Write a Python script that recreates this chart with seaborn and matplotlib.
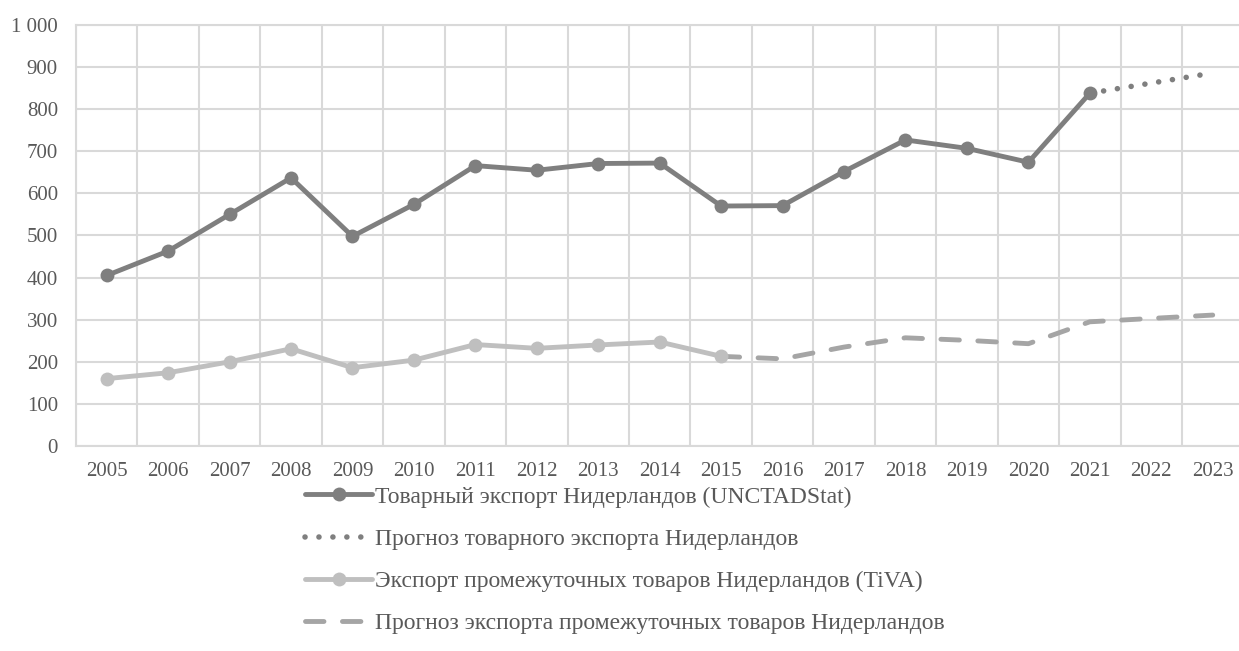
import seaborn as sns
import matplotlib.pyplot as plt
import pandas as pd
from matplotlib.ticker import FuncFormatter

years = list(range(2005, 2022))
export_unctad = [405, 463, 550, 637, 498, 574, 666, 655, 671, 672, 570, 571, 652, 727, 707, 674, 838]

forecast_years = [2021, 2022, 2023]
export_forecast = [838, 862, 886]

tiva_years = list(range(2005, 2016))
export_tiva = [160, 174, 200, 231, 186, 204, 241, 232, 240, 247, 213]

tiva_forecast_years = list(range(2015, 2024))
tiva_forecast = [213, 207, 235, 257, 251, 243, 295, 303, 311]

labels = [
    'Товарный экспорт Нидерландов (UNCTADStat)',
    'Прогноз товарного экспорта Нидерландов',
    'Экспорт промежуточных товаров Нидерландов (TiVA)',
    'Прогноз экспорта промежуточных товаров Нидерландов',
]

sns.set_style('white')
plt.rcParams['font.family'] = ['Liberation Serif', 'DejaVu Serif']

fig = plt.figure(figsize=(12.39, 6.51), dpi=100)
ax = fig.add_axes([0.0613, 0.3149, 0.9423, 0.6467])

df1 = pd.DataFrame({'year': years, 'value': export_unctad})
df2 = pd.DataFrame({'year': forecast_years, 'value': export_forecast})
df3 = pd.DataFrame({'year': tiva_years, 'value': export_tiva})
df4 = pd.DataFrame({'year': tiva_forecast_years, 'value': tiva_forecast})

lw = 3.5
sns.lineplot(data=df4, x='year', y='value', ax=ax, color='#a5a5a5', linewidth=lw,
             linestyle=(0, (3.8, 3.8)), dash_capstyle='round',
             label=labels[3], zorder=3)
sns.lineplot(data=df3, x='year', y='value', ax=ax, color='#bfbfbf', linewidth=lw,
             marker='o', markersize=10, markeredgewidth=0, label=labels[2], zorder=4)
sns.lineplot(data=df2, x='year', y='value', ax=ax, color='#7f7f7f', linewidth=4,
             linestyle=(0, (0.01, 2.5)), dash_capstyle='round',
             label=labels[1], zorder=3)
sns.lineplot(data=df1, x='year', y='value', ax=ax, color='#7f7f7f', linewidth=lw,
             marker='o', markersize=10, markeredgewidth=0, label=labels[0], zorder=5)

ax.set_xlim(2004.5, 2023.5)
ax.set_ylim(0, 1000)
ax.set_xticks(years + [2022, 2023])
ax.set_xticks([y + 0.5 for y in range(2004, 2024)], minor=True)
ax.set_yticks(range(0, 1001, 100))
ax.yaxis.set_major_formatter(FuncFormatter(lambda v, p: f'{int(v):,}'.replace(',', ' ')))
ax.grid(False)
ax.grid(True, which='minor', axis='x', color='#d9d9d9', linewidth=1.5)
ax.grid(True, which='major', axis='y', color='#d9d9d9', linewidth=1.5)
ax.set_axisbelow(True)
for s in ax.spines.values():
    s.set_color('#d9d9d9')
    s.set_linewidth(1.5)
ax.tick_params(axis='both', which='both', length=0, labelsize=15, colors='#595959')
ax.tick_params(axis='y', pad=13)
ax.tick_params(axis='x', pad=11.5)
ax.set_xlabel('')
ax.set_ylabel('')

handles, labs = ax.get_legend_handles_labels()
order = [labs.index(l) for l in labels]
ax.legend().remove()
fig.legend([handles[i] for i in order], [labs[i] for i in order],
           loc='upper left', bbox_to_anchor=(305 / 1239, 1 - 486 / 651),
           frameon=False, fontsize=17, labelcolor='#595959',
           handlelength=2.85, handletextpad=0.12, labelspacing=0.88,
           borderpad=0, borderaxespad=0)

fig.savefig('out.png', dpi=100)
